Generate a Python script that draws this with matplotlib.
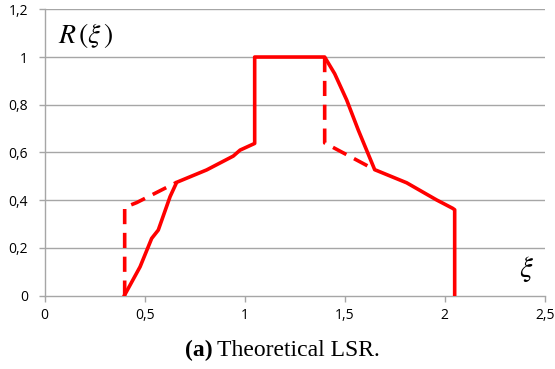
import matplotlib.pyplot as plt

# solid curve
xi_solid = [0.398, 0.477, 0.535, 0.568, 0.627, 0.66, 0.81, 0.943, 0.977, 1.05,
            1.05, 1.40, 1.45, 1.51, 1.568, 1.65, 1.81, 1.96, 2.04, 2.05, 2.05]
r_solid = [0.0, 0.121, 0.24, 0.275, 0.415, 0.475, 0.527, 0.585, 0.61, 0.638,
           1.0, 1.0, 0.93, 0.82, 0.694, 0.528, 0.473, 0.401, 0.366, 0.36, 0.0]

# dashed branches
xi_dash_left = [0.40, 0.40, 0.46, 0.66]
r_dash_left = [0.0, 0.37, 0.39, 0.475]
xi_dash_right = [1.40, 1.40, 1.65]
r_dash_right = [1.0, 0.64, 0.528]

x_ticks = [0, 0.5, 1, 1.5, 2, 2.5]
x_labels = ['0', '0,5', '1', '1,5', '2', '2,5']
y_ticks = [0, 0.2, 0.4, 0.6, 0.8, 1.0, 1.2]
y_labels = ['0', '0,2', '0,4', '0,6', '0,8', '1', '1,2']

plt.rcParams['mathtext.fontset'] = 'stix'

fig = plt.figure(figsize=(5.55, 3.69), dpi=100)
ax = fig.add_axes([0.0805, 0.1987, 0.9009, 0.7761])

grid_c = '#a6a6a6'
for y in y_ticks[1:]:
    ax.axhline(y, color=grid_c, lw=1.0, zorder=1)

ax.plot(xi_solid, r_solid, color='#ff0000', lw=2.6, solid_joinstyle='round', zorder=3)
for xs, ys in [(xi_dash_left, r_dash_left), (xi_dash_right, r_dash_right)]:
    ax.plot(xs, ys, color='#ff0000', lw=2.6, dashes=(4.2, 2.4), zorder=3)

ax.set_xlim(0, 2.5)
ax.set_ylim(0, 1.2)
ax.set_xticks(x_ticks)
ax.set_xticklabels(x_labels)
ax.set_yticks(y_ticks)
ax.set_yticklabels(y_labels)

for s in ['top', 'right']:
    ax.spines[s].set_visible(False)
for s in ['left', 'bottom']:
    ax.spines[s].set_color(grid_c)
    ax.spines[s].set_linewidth(1.0)

ax.tick_params(axis='both', colors=grid_c, length=4, width=1.0, direction='out')
ax.tick_params(axis='x', pad=5, labelcolor='black', labelsize=10)
ax.tick_params(axis='y', pad=8, labelcolor='black', labelsize=10)
for lab in ax.get_xticklabels() + ax.get_yticklabels():
    lab.set_fontfamily('Open Sans')

ax.text(0.065, 1.09, r'$R\,(\xi\,)$', fontsize=20, va='center', ha='left')
ax.text(2.41, 0.11, r'$\xi$', fontsize=21, va='center', ha='center')

# caption
fig.text(0.383, 0.05, '(a)', fontsize=17, fontweight='bold',
         family='Liberation Serif', ha='right', va='center')
fig.text(0.391, 0.05, 'Theoretical LSR.', fontsize=17,
         family='Liberation Serif', ha='left', va='center')

fig.savefig('out.png', dpi=100)
